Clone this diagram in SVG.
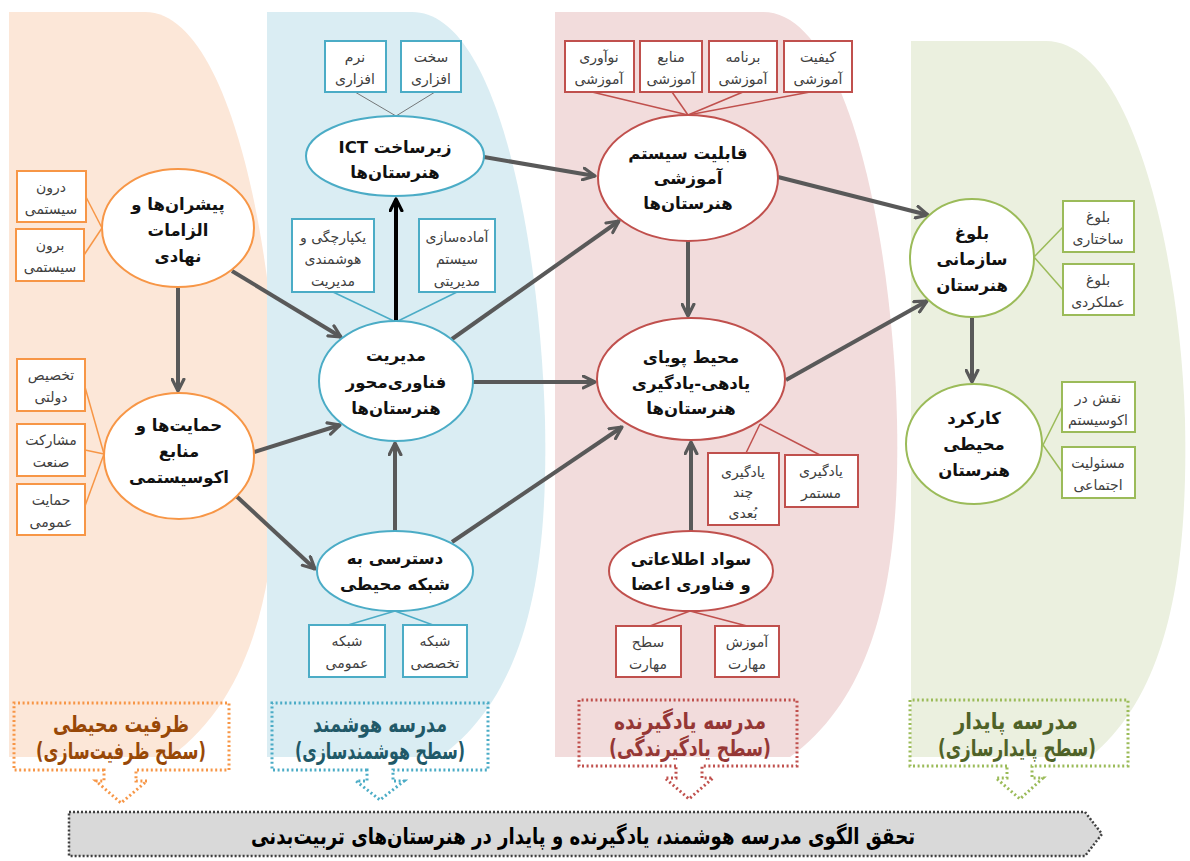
<svg xmlns="http://www.w3.org/2000/svg" width="1190" height="861" viewBox="0 0 1190 861">
<defs>
<marker id="ah" viewBox="0 0 14 14" refX="12.5" refY="7" markerWidth="15" markerHeight="15" markerUnits="userSpaceOnUse" orient="auto">
<path d="M1.5,1.5 L12.5,7 L1.5,12.5" fill="none" stroke="#595959" stroke-width="3" stroke-linecap="round" stroke-linejoin="round"/>
</marker>
<marker id="ahb" viewBox="0 0 14 14" refX="12.5" refY="7" markerWidth="15" markerHeight="15" markerUnits="userSpaceOnUse" orient="auto">
<path d="M1.5,1.5 L12.5,7 L1.5,12.5" fill="none" stroke="#000" stroke-width="3" stroke-linecap="round" stroke-linejoin="round"/>
</marker>
</defs>
<style>
text{font-family:"DejaVu Sans",sans-serif;direction:rtl;unicode-bidi:embed;text-anchor:middle}
.nt{font-size:16.5px;font-weight:bold;fill:#111}
.bt{font-size:14px;fill:#404040}
.or{fill:#fff;stroke:#F79646;stroke-width:2}
.bl{fill:#fff;stroke:#4BACC6;stroke-width:2}
.rd{fill:#fff;stroke:#C0504D;stroke-width:2}
.gr{fill:#fff;stroke:#9BBB59;stroke-width:2}
.lo{stroke:#F79646;stroke-width:1.5;fill:none}
.lb{stroke:#4BACC6;stroke-width:1.5;fill:none}
.lr{stroke:#C0504D;stroke-width:1.5;fill:none}
.lg{stroke:#9BBB59;stroke-width:1.5;fill:none}
.lk{stroke:#595959;stroke-width:0.8;fill:none}
.ar{stroke:#595959;stroke-width:4;fill:none;marker-end:url(#ah)}
.dot{fill:none;stroke-width:3;stroke-dasharray:2 2.6}
.tl{font-size:23px;font-weight:bold}
</style>
<g id="backgrounds">
<path d="M9,12 H145 C230,12 275,250 278,420 C280,560 262,690 170,757 H9 Z" fill="#FCE7D8"/>
<path d="M267,12 H412 C500,12 540,250 545,420 C548,560 532,690 440,757 H267 Z" fill="#DAEDF3"/>
<path d="M555,12 H763 C850,12 893,250 897,420 C900,560 882,690 790,757 H555 Z" fill="#F2DCDC"/>
<path d="M911,41 H1046 C1130,41 1180,250 1185,420 C1188,560 1172,690 1090,757 H911 Z" fill="#EBF0DF"/>
</g>
<g id="connectors">
<line class="lo" x1="86" y1="197" x2="102" y2="228"/>
<line class="lo" x1="84" y1="255" x2="102" y2="228"/>
<line class="lo" x1="85" y1="387" x2="104" y2="454"/>
<line class="lo" x1="85" y1="450" x2="104" y2="454"/>
<line class="lo" x1="85" y1="506" x2="104" y2="454"/>
<line class="lk" x1="355" y1="92" x2="396" y2="116"/>
<line class="lk" x1="435" y1="92" x2="396" y2="116"/>
<line class="lb" x1="333" y1="292" x2="396" y2="322"/>
<line class="lb" x1="457" y1="292" x2="396" y2="322"/>
<line class="lb" x1="348" y1="625" x2="395" y2="611"/>
<line class="lb" x1="433" y1="625" x2="395" y2="611"/>
<line class="lr" x1="592" y1="92" x2="688" y2="115"/>
<line class="lr" x1="672" y1="92" x2="688" y2="115"/>
<line class="lr" x1="743" y1="92" x2="688" y2="115"/>
<line class="lr" x1="810" y1="92" x2="688" y2="115"/>
<line class="lr" x1="746" y1="453" x2="760" y2="424"/>
<line class="lr" x1="820" y1="455" x2="760" y2="424"/>
<line class="lr" x1="650" y1="626" x2="690" y2="611"/>
<line class="lr" x1="747" y1="626" x2="690" y2="611"/>
<line class="lg" x1="1034" y1="257" x2="1063" y2="227"/>
<line class="lg" x1="1034" y1="257" x2="1063" y2="290"/>
<line class="lg" x1="1043" y1="445" x2="1062" y2="407"/>
<line class="lg" x1="1043" y1="445" x2="1062" y2="472"/>
<line class="ar" x1="178" y1="288" x2="178" y2="391"/>
<line class="ar" x1="232" y1="271" x2="341" y2="337"/>
<line class="ar" x1="254" y1="452" x2="340" y2="425"/>
<line class="ar" x1="233" y1="493" x2="315" y2="569"/>
<line x1="396" y1="322" x2="396" y2="199" stroke="#000" stroke-width="4" marker-end="url(#ahb)"/>
<line class="ar" x1="395" y1="532" x2="395" y2="443"/>
<line class="ar" x1="484" y1="157" x2="595" y2="176"/>
<line class="ar" x1="452" y1="339" x2="619" y2="221"/>
<line class="ar" x1="472" y1="382" x2="595" y2="382"/>
<line class="ar" x1="452" y1="542" x2="622" y2="427"/>
<line class="ar" x1="688" y1="241" x2="688" y2="316"/>
<line class="ar" x1="691" y1="532" x2="691" y2="442"/>
<line class="ar" x1="778" y1="177" x2="928" y2="215"/>
<line class="ar" x1="786" y1="380" x2="927" y2="301"/>
<line class="ar" x1="972" y1="318" x2="972" y2="382"/>
</g>
<g id="n-e1"><ellipse class="or" cx="178" cy="228" rx="76" ry="59"/>
<text class="nt" x="178" y="210">پیشران‌ها و</text><text class="nt" x="178" y="236">الزامات</text><text class="nt" x="178" y="262">نهادی</text></g>
<g id="n-e2"><ellipse class="or" cx="179" cy="456" rx="75" ry="63"/>
<text class="nt" x="179" y="431">حمایت‌ها و</text><text class="nt" x="179" y="457">منابع</text><text class="nt" x="179" y="483">اکوسیستمی</text></g>
<g id="b-o1"><rect class="or" x="17" y="171" width="69" height="51"/><text class="bt" x="51" y="192">درون</text><text class="bt" x="51" y="214">سیستمی</text></g>
<g id="b-o2"><rect class="or" x="16" y="229" width="68" height="52"/><text class="bt" x="50" y="250">برون</text><text class="bt" x="50" y="272">سیستمی</text></g>
<g id="b-o3"><rect class="or" x="17" y="359" width="68" height="52"/><text class="bt" x="51" y="380">تخصیص</text><text class="bt" x="51" y="402">دولتی</text></g>
<g id="b-o4"><rect class="or" x="17" y="424" width="68" height="52"/><text class="bt" x="51" y="445">مشارکت</text><text class="bt" x="51" y="467">صنعت</text></g>
<g id="b-o5"><rect class="or" x="17" y="484" width="68" height="51"/><text class="bt" x="51" y="505">حمایت</text><text class="bt" x="51" y="527">عمومی</text></g>

<g id="n-ict"><ellipse class="bl" cx="395" cy="156" rx="89" ry="40"/>
<text class="nt" x="395" y="153">زیرساخت ICT</text><text class="nt" x="395" y="178">هنرستان‌ها</text></g>
<g id="b-b1"><rect class="bl" x="325" y="41" width="61" height="51"/><text class="bt" x="355" y="62">نرم</text><text class="bt" x="355" y="84">افزاری</text></g>
<g id="b-b2"><rect class="bl" x="401" y="41" width="60" height="51"/><text class="bt" x="431" y="62">سخت</text><text class="bt" x="431" y="84">افزاری</text></g>
<g id="b-b3"><rect class="bl" x="292" y="219" width="82" height="73"/><text class="bt" x="333" y="242">یکپارچگی و</text><text class="bt" x="333" y="264">هوشمندی</text><text class="bt" x="333" y="286">مدیریت</text></g>
<g id="b-b4"><rect class="bl" x="419" y="219" width="76" height="73"/><text class="bt" x="457" y="242">آماده‌سازی</text><text class="bt" x="457" y="264">سیستم</text><text class="bt" x="457" y="286">مدیریتی</text></g>
<g id="n-mgmt"><ellipse class="bl" cx="396" cy="381" rx="77" ry="60"/>
<text class="nt" x="396" y="361">مدیریت</text><text class="nt" x="396" y="388">فناوری‌محور</text><text class="nt" x="396" y="414">هنرستان‌ها</text></g>
<g id="n-access"><ellipse class="bl" cx="395" cy="571" rx="78" ry="40"/>
<text class="nt" x="395" y="564">دسترسی به</text><text class="nt" x="395" y="590">شبکه محیطی</text></g>
<g id="b-b5"><rect class="bl" x="309" y="625" width="76" height="52"/><text class="bt" x="347" y="646">شبکه</text><text class="bt" x="347" y="668">عمومی</text></g>
<g id="b-b6"><rect class="bl" x="403" y="625" width="64" height="52"/><text class="bt" x="435" y="646">شبکه</text><text class="bt" x="435" y="668">تخصصی</text></g>

<g id="n-cap"><ellipse class="rd" cx="688" cy="178" rx="90" ry="63"/>
<text class="nt" x="688" y="159">قابلیت سیستم</text><text class="nt" x="688" y="184">آموزشی</text><text class="nt" x="688" y="209">هنرستان‌ها</text></g>
<g id="b-r1"><rect class="rd" x="565" y="41" width="69" height="51"/><text class="bt" x="599" y="62">نوآوری</text><text class="bt" x="599" y="84">آموزشی</text></g>
<g id="b-r2"><rect class="rd" x="640" y="41" width="62" height="51"/><text class="bt" x="671" y="62">منابع</text><text class="bt" x="671" y="84">آموزشی</text></g>
<g id="b-r3"><rect class="rd" x="709" y="41" width="68" height="51"/><text class="bt" x="743" y="62">برنامه</text><text class="bt" x="743" y="84">آموزشی</text></g>
<g id="b-r4"><rect class="rd" x="784" y="41" width="68" height="51"/><text class="bt" x="818" y="62">کیفیت</text><text class="bt" x="818" y="84">آموزشی</text></g>
<g id="n-dyn"><ellipse class="rd" cx="691" cy="379" rx="94" ry="61"/>
<text class="nt" x="691" y="363">محیط پویای</text><text class="nt" x="691" y="389">یادهی-یادگیری</text><text class="nt" x="691" y="414">هنرستان‌ها</text></g>
<g id="b-r5"><rect class="rd" x="708" y="453" width="71" height="72"/><text class="bt" x="743" y="477">یادگیری</text><text class="bt" x="743" y="497">چند</text><text class="bt" x="743" y="518">بُعدی</text></g>
<g id="b-r6"><rect class="rd" x="785" y="455" width="73" height="52"/><text class="bt" x="821" y="476">یادگیری</text><text class="bt" x="821" y="498">مستمر</text></g>
<g id="n-lit"><ellipse class="rd" cx="691" cy="571" rx="82" ry="40"/>
<text class="nt" x="691" y="565">سواد اطلاعاتی</text><text class="nt" x="691" y="590">و فناوری اعضا</text></g>
<g id="b-r7"><rect class="rd" x="616" y="626" width="65" height="51"/><text class="bt" x="648" y="647">سطح</text><text class="bt" x="648" y="669">مهارت</text></g>
<g id="b-r8"><rect class="rd" x="715" y="626" width="64" height="51"/><text class="bt" x="747" y="647">آموزش</text><text class="bt" x="747" y="669">مهارت</text></g>

<g id="n-bol"><ellipse class="gr" cx="972" cy="258" rx="62" ry="59"/>
<text class="nt" x="972" y="239">بلوغ</text><text class="nt" x="972" y="265">سازمانی</text><text class="nt" x="972" y="291">هنرستان</text></g>
<g id="n-kar"><ellipse class="gr" cx="974" cy="444" rx="68" ry="60"/>
<text class="nt" x="974" y="424">کارکرد</text><text class="nt" x="974" y="450">محیطی</text><text class="nt" x="974" y="476">هنرستان</text></g>
<g id="b-g1"><rect class="gr" x="1063" y="201" width="71" height="51"/><text class="bt" x="1098" y="222">بلوغ</text><text class="bt" x="1098" y="244">ساختاری</text></g>
<g id="b-g2"><rect class="gr" x="1063" y="264" width="71" height="51"/><text class="bt" x="1098" y="285">بلوغ</text><text class="bt" x="1098" y="307">عملکردی</text></g>
<g id="b-g3"><rect class="gr" x="1062" y="382" width="73" height="50"/><text class="bt" x="1098" y="403">نقش در</text><text class="bt" x="1098" y="425">اکوسیستم</text></g>
<g id="b-g4"><rect class="gr" x="1062" y="447" width="73" height="51"/><text class="bt" x="1098" y="468">مسئولیت</text><text class="bt" x="1098" y="490">اجتماعی</text></g>

<g id="lbl-orange">
<path class="dot" stroke="#F79646" d="M104,770 H14 V703 H229 V770 H136 V781 H147 L121,803 L96,781 H104 Z"/>
<text class="tl" fill="#984807" x="121" y="732" textLength="136" lengthAdjust="spacingAndGlyphs">ظرفیت محیطی</text>
<text class="tl" fill="#984807" x="121" y="759" textLength="170" lengthAdjust="spacingAndGlyphs">(سطح ظرفیت‌سازی)</text></g>
<g id="lbl-blue">
<path class="dot" stroke="#4BACC6" d="M367,770 H272 V703 H488 V770 H393 V781 H404 L380,800 L356,781 H367 Z"/>
<text class="tl" fill="#215968" x="380" y="732" textLength="134" lengthAdjust="spacingAndGlyphs">مدرسه هوشمند</text>
<text class="tl" fill="#215968" x="380" y="759" textLength="170" lengthAdjust="spacingAndGlyphs">(سطح هوشمندسازی)</text></g>
<g id="lbl-red">
<path class="dot" stroke="#C0504D" d="M676,766 H579 V700 H797 V766 H702 V778 H713 L689,799 L665,778 H676 Z"/>
<text class="tl" fill="#953735" x="690" y="729" textLength="152" lengthAdjust="spacingAndGlyphs">مدرسه یادگیرنده</text>
<text class="tl" fill="#953735" x="690" y="756" textLength="162" lengthAdjust="spacingAndGlyphs">(سطح یادگیرندگی)</text></g>
<g id="lbl-green">
<path class="dot" stroke="#9BBB59" d="M1007,766 H910 V700 H1128 V766 H1032 V778 H1043 L1020,799 L996,778 H1007 Z"/>
<text class="tl" fill="#4F6228" x="1016" y="729" textLength="124" lengthAdjust="spacingAndGlyphs">مدرسه پایدار</text>
<text class="tl" fill="#4F6228" x="1017" y="756" textLength="158" lengthAdjust="spacingAndGlyphs">(سطح پایدارسازی)</text></g>
<g id="bottom-bar">
<path d="M69,812 H1085 L1102,834 L1085,856 H69 Z" fill="#D9D9D9" stroke="#404040" stroke-width="2.5" stroke-dasharray="2 2"/>
<text x="583" y="844" font-size="23" font-weight="bold" fill="#000" textLength="664" lengthAdjust="spacingAndGlyphs">تحقق الگوی مدرسه هوشمند، یادگیرنده و پایدار در هنرستان‌های تربیت‌بدنی</text>
</g>
</svg>
